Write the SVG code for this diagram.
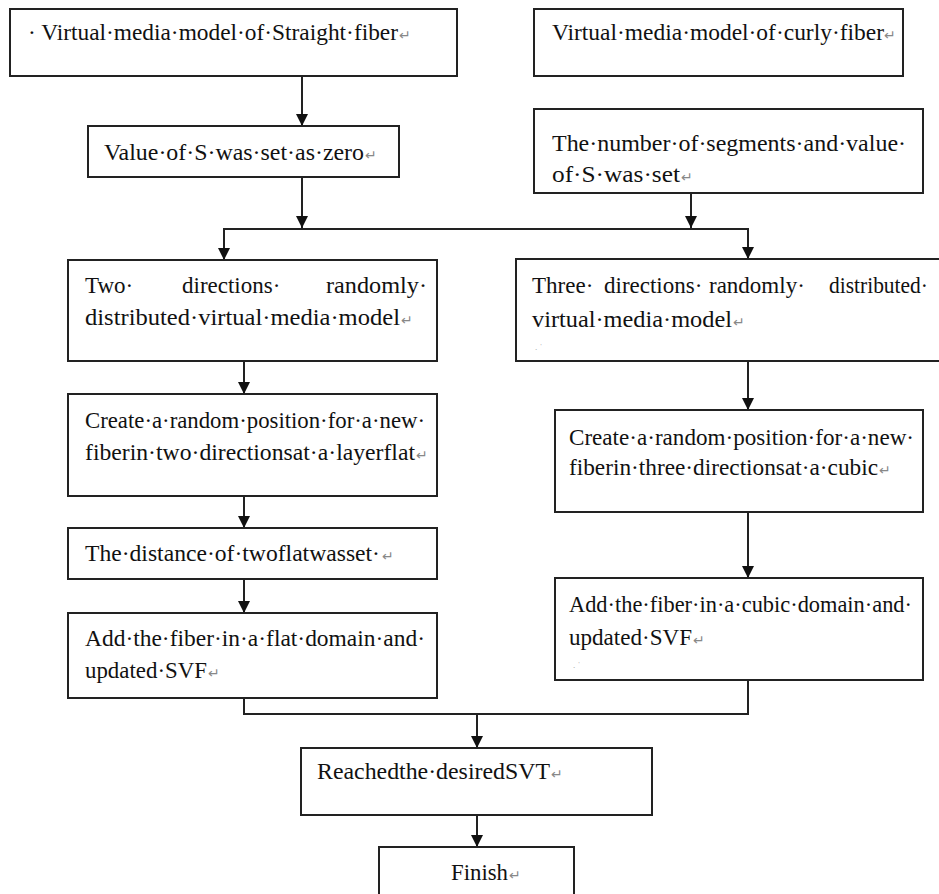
<svg xmlns="http://www.w3.org/2000/svg" width="939" height="894" viewBox="0 0 939 894">
<style>
.box{fill:#fff;stroke:#222;stroke-width:2}
.t{font-family:"Liberation Serif","Times New Roman",serif;font-size:23px;fill:#111}
.r{font-family:"DejaVu Sans",sans-serif;font-size:14px;fill:#888}
.m{font-family:"Liberation Serif",serif;font-size:9px;fill:#999}
.c{fill:none;stroke:#222;stroke-width:2}
</style>
<defs>
<marker id="ah" viewBox="0 0 12 12" refX="12" refY="6" markerWidth="12" markerHeight="12" markerUnits="userSpaceOnUse" orient="auto">
<path d="M0,0 L12,6 L0,12 z" fill="#111"/>
</marker>
</defs>
<rect width="939" height="894" fill="#fff"/>
<g id="connectors">
<line class="c" x1="302" y1="76" x2="302" y2="126" marker-end="url(#ah)"/>
<line class="c" x1="302" y1="177" x2="302" y2="228" marker-end="url(#ah)"/>
<line class="c" x1="691" y1="193" x2="691" y2="228" marker-end="url(#ah)"/>
<line class="c" x1="223" y1="229" x2="749" y2="229"/>
<line class="c" x1="224" y1="229" x2="224" y2="260" marker-end="url(#ah)"/>
<line class="c" x1="748" y1="229" x2="748" y2="259" marker-end="url(#ah)"/>
<line class="c" x1="244" y1="361" x2="244" y2="394" marker-end="url(#ah)"/>
<line class="c" x1="244" y1="496" x2="244" y2="528" marker-end="url(#ah)"/>
<line class="c" x1="244" y1="579" x2="244" y2="613" marker-end="url(#ah)"/>
<line class="c" x1="748" y1="361" x2="748" y2="410" marker-end="url(#ah)"/>
<line class="c" x1="748" y1="512" x2="748" y2="578" marker-end="url(#ah)"/>
<polyline class="c" points="244,698 244,714 748,714 748,680"/>
<line class="c" x1="477" y1="714" x2="477" y2="748" marker-end="url(#ah)"/>
<line class="c" x1="477" y1="815" x2="477" y2="847" marker-end="url(#ah)"/>
</g>
<g id="n1">
<rect class="box" x="10" y="9" width="447" height="67"/>
<text class="t" x="28" y="40" textLength="370" lengthAdjust="spacingAndGlyphs">· Virtual·media·model·of·Straight·fiber</text>
<text class="r" x="399" y="40">↵</text>
</g>
<g id="n2">
<rect class="box" x="88" y="126" width="311" height="51"/>
<text class="t" x="104" y="160" textLength="260" lengthAdjust="spacingAndGlyphs">Value·of·S·was·set·as·zero</text>
<text class="r" x="365" y="160">↵</text>
</g>
<g id="n3">
<rect class="box" x="534" y="9" width="369" height="67"/>
<text class="t" x="552" y="40" textLength="332" lengthAdjust="spacingAndGlyphs">Virtual·media·model·of·curly·fiber</text>
<text class="r" x="884" y="40">↵</text>
</g>
<g id="n4">
<rect class="box" x="534" y="109" width="389" height="84"/>
<text class="t" x="552" y="151" textLength="354" lengthAdjust="spacingAndGlyphs">The·number·of·segments·and·value·</text>
<text class="t" x="552" y="182" textLength="128" lengthAdjust="spacingAndGlyphs">of·S·was·set</text>
<text class="r" x="681" y="182">↵</text>
</g>
<g id="n5">
<rect class="box" x="68" y="260" width="369" height="101"/>
<text class="t" x="85" y="293">Two·</text>
<text class="t" x="182" y="293">directions·</text>
<text class="t" x="326" y="293" textLength="101" lengthAdjust="spacingAndGlyphs">randomly·</text>
<text class="t" x="85" y="325" textLength="315" lengthAdjust="spacingAndGlyphs">distributed·virtual·media·model</text>
<text class="r" x="401" y="325">↵</text>
</g>
<g id="n6">
<rect class="box" x="68" y="394" width="369" height="102"/>
<text class="t" x="85" y="428" textLength="340" lengthAdjust="spacingAndGlyphs">Create·a·random·position·for·a·new·</text>
<text class="t" x="85" y="460" textLength="330" lengthAdjust="spacingAndGlyphs">fiberin·two·directionsat·a·layerflat</text>
<text class="r" x="416" y="460">↵</text>
</g>
<g id="n7">
<rect class="box" x="68" y="528" width="369" height="51"/>
<text class="t" x="85" y="561" textLength="295" lengthAdjust="spacingAndGlyphs">The·distance·of·twoflatwasset·</text>
<text class="r" x="382" y="561">↵</text>
</g>
<g id="n8">
<rect class="box" x="68" y="613" width="369" height="85"/>
<text class="t" x="85" y="646" textLength="340" lengthAdjust="spacingAndGlyphs">Add·the·fiber·in·a·flat·domain·and·</text>
<text class="t" x="85" y="678" textLength="122" lengthAdjust="spacingAndGlyphs">updated·SVF</text>
<text class="r" x="208" y="678">↵</text>
</g>
<g id="n9">
<rect class="box" x="516" y="259" width="430" height="102"/>
<text class="t" x="532" y="293">Three·</text>
<text class="t" x="604" y="293">directions·</text>
<text class="t" x="709" y="293">randomly·</text>
<text class="t" x="829" y="293" textLength="99" lengthAdjust="spacingAndGlyphs">distributed·</text>
<text class="t" x="532" y="327" textLength="200" lengthAdjust="spacingAndGlyphs">virtual·media·model</text>
<text class="r" x="733" y="327">↵</text>
<text class="m" x="535" y="350">. ˈ</text>
</g>
<g id="n10">
<rect class="box" x="555" y="410" width="368" height="102"/>
<text class="t" x="569" y="445" textLength="345" lengthAdjust="spacingAndGlyphs">Create·a·random·position·for·a·new·</text>
<text class="t" x="569" y="475" textLength="309" lengthAdjust="spacingAndGlyphs">fiberin·three·directionsat·a·cubic</text>
<text class="r" x="879" y="475">↵</text>
</g>
<g id="n11">
<rect class="box" x="555" y="578" width="368" height="102"/>
<text class="t" x="569" y="612" textLength="343" lengthAdjust="spacingAndGlyphs">Add·the·fiber·in·a·cubic·domain·and·</text>
<text class="t" x="569" y="645" textLength="123" lengthAdjust="spacingAndGlyphs">updated·SVF</text>
<text class="r" x="693" y="645">↵</text>
<text class="m" x="573" y="668">. ˈ</text>
</g>
<g id="n12">
<rect class="box" x="301" y="748" width="351" height="67"/>
<text class="t" x="317" y="779" textLength="233" lengthAdjust="spacingAndGlyphs">Reachedthe·desiredSVT</text>
<text class="r" x="551" y="779">↵</text>
</g>
<g id="n13">
<rect class="box" x="379" y="847" width="195" height="60"/>
<text class="t" x="451" y="880" textLength="57" lengthAdjust="spacingAndGlyphs">Finish</text>
<text class="r" x="509" y="880">↵</text>
</g>
</svg>
